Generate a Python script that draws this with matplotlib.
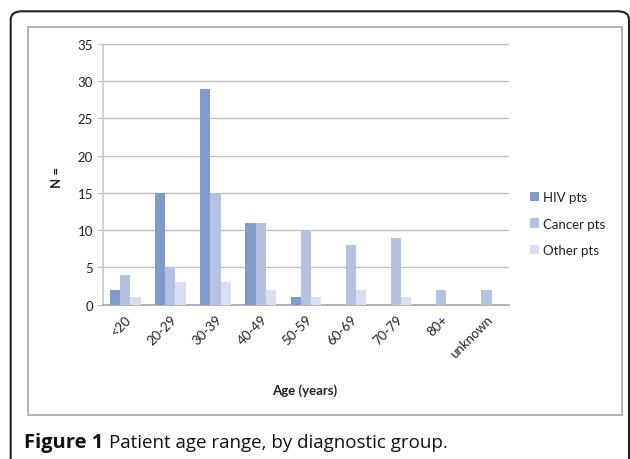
import matplotlib
matplotlib.use("Agg")
import matplotlib.pyplot as plt
from matplotlib.patches import FancyBboxPatch, Rectangle
import numpy as np

categories = ["<20", "20-29", "30-39", "40-49", "50-59", "60-69", "70-79", "80+", "unknown"]
hiv = [2, 15, 29, 11, 1, 0, 0, 0, 0]
cancer = [4, 5, 15, 11, 10, 8, 9, 2, 2]
other = [1, 3, 3, 2, 1, 2, 1, 0, 0]
series = [("HIV pts", hiv, "#7f9acb"), ("Cancer pts", cancer, "#b4c1e1"), ("Other pts", other, "#d9dff0")]
yticks = [0, 5, 10, 15, 20, 25, 30, 35]

W, H = 630, 460
fig = plt.figure(figsize=(6.3, 4.6), dpi=100)
plt.rcParams['font.family'] = ['Lato', 'DejaVu Sans']

# outer rounded frame
fig.patches.append(FancyBboxPatch((10.7 / W, -20 / H), (629 - 10.7) / W, (H - 12.3 + 20) / H,
                                  boxstyle="round,pad=0,rounding_size=0.018",
                                  transform=fig.transFigure, fill=False,
                                  edgecolor="#222222", linewidth=1.5, figure=fig))
# inner chart frame
fig.patches.append(Rectangle((28 / W, 1 - 416 / H), (622 - 28) / W, (416 - 28) / H,
                             transform=fig.transFigure, fill=False,
                             edgecolor="#a6a6a6", linewidth=1.2, figure=fig))

ax = fig.add_axes([102.7 / W, 1 - 305.7 / H, (509 - 102.7) / W, (305.7 - 45) / H])
x = np.arange(len(categories))
w = 0.225
for k, (name, vals, col) in enumerate(series):
    ax.bar(x + (k - 1) * w, vals, width=w, color=col, label=name, zorder=3)

ax.set_xlim(-0.5, len(categories) - 0.5)
ax.set_ylim(0, 35)
ax.set_yticks(yticks)
ax.yaxis.grid(True, color="#bfbfbf", linewidth=1, zorder=0)
ax.set_xticks(x)
ax.set_xticklabels(categories, rotation=45, ha="right", rotation_mode="anchor", fontsize=9.5, color="#222222")
ax.tick_params(axis="x", length=0, pad=6)
ax.tick_params(axis="y", length=4, color="#bfbfbf", labelsize=9.5, labelcolor="#222222", pad=3)
for s in ["top", "right"]:
    ax.spines[s].set_visible(False)
ax.spines["left"].set_color("#c8c8c8")
ax.spines["bottom"].set_color("#a6a6a6")
ax.spines["left"].set_linewidth(1.2)
ax.spines["bottom"].set_linewidth(1.2)

fig.text(305 / W, 1 - 391 / H, "Age (years)", ha="center", va="center", fontsize=9.5, fontweight="bold", color="#222222")
fig.text(57 / W, 1 - 177 / H, "N =", ha="center", va="center", rotation=90, fontsize=9.5, fontweight="bold", color="#222222")

leg = ax.legend(loc="upper left", bbox_to_anchor=(530 / W, 1 - 192 / H), bbox_transform=fig.transFigure,
                frameon=False, fontsize=9.5, handlelength=0.7, handleheight=0.7, handletextpad=0.3,
                labelspacing=1.1, borderaxespad=0, borderpad=0)
for t in leg.get_texts():
    t.set_color("#222222")

cap_font = ["Open Sans", "DejaVu Sans"]
t1 = fig.text(24 / W, 1 - 443 / H, "Figure 1", ha="left", va="center", fontsize=14.5, fontweight="bold",
              family=cap_font, color="#111111")
fig.canvas.draw()
bb = t1.get_window_extent()
fig.text((bb.x1 + 6) / W, 1 - 443 / H, "Patient age range, by diagnostic group.", ha="left", va="center",
         fontsize=13.5, family=cap_font, color="#111111")

fig.savefig("out.png", dpi=100)
